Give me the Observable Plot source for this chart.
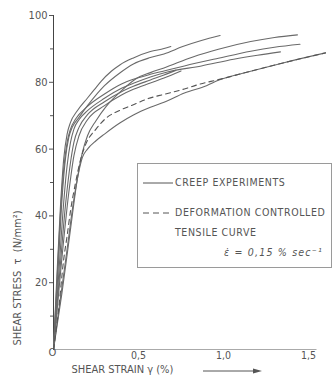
<!DOCTYPE html>
<html>
<head>
<meta charset="utf-8">
<script src="https://cdn.jsdelivr.net/npm/d3@7"></script>
<script src="https://cdn.jsdelivr.net/npm/@observablehq/plot@0.6"></script>
<style>
  html, body { margin: 0; padding: 0; background: #fff; }
  #wrap { position: relative; width: 333px; height: 378px; overflow: hidden; }
  g[aria-label="y title"] text { letter-spacing: 1.6px; }
  g[aria-label="x title"] text { letter-spacing: 1.1px; }
  #legend { position: absolute; left: 137px; top: 163px; width: 193px; height: 103px;
    border: 1px solid #9a9a9a; font-family: "DejaVu Sans Condensed", "DejaVu Sans", sans-serif;
    font-size: 10.5px; color: #555; letter-spacing: 0.6px; }
  #legend .t { position: absolute; white-space: nowrap; }
  #legend svg { position: absolute; }
  #arrow { position: absolute; left: 203px; top: 367px; }
</style>
</head>
<body>
<div id="wrap">
  <div id="chart"></div>
  <div id="legend"></div>
  <svg id="arrow" width="62" height="8"><line x1="0" y1="4" x2="52" y2="4" stroke="#555" stroke-width="1"/><polygon points="50,1.5 59,4 50,6.5" fill="#555"/></svg>
</div>
<script>
// ---- data ----
const curveA = [[0,0],[0.02,22],[0.04,42],[0.06,57],[0.08,64.5],[0.1,68],[0.14,71.5],[0.2,75.3],[0.24,77.8],[0.28,80.3],[0.34,83.3],[0.39,85.2],[0.47,87.3],[0.57,89.2],[0.65,90.1],[0.69,90.7]];
const curveB = [[0,0],[0.025,22],[0.05,45],[0.07,57],[0.09,63.5],[0.11,66.5],[0.15,69.5],[0.2,73],[0.3,79],[0.39,82.8],[0.47,85.5],[0.57,87.4],[0.65,88.5],[0.76,90.7],[0.87,92.5],[0.98,94]];
const curveC = [[0,0],[0.05,17],[0.1,36],[0.14,51],[0.17,59],[0.2,64],[0.25,68.5],[0.31,72.8],[0.4,77.5],[0.49,81.2],[0.57,82.9],[0.65,84.3],[0.82,87.6],[0.97,89.9],[1.16,92.2],[1.3,93.4],[1.435,94.2]];
const curveD = [[0,0],[0.02,20],[0.04,40],[0.06,54],[0.08,62],[0.1,66],[0.13,69],[0.2,72.8],[0.3,76.5],[0.4,79.5],[0.47,80.9],[0.57,82.4],[0.65,83.4],[0.77,84.9],[0.97,87.2],[1.16,89.3],[1.3,90.5],[1.45,91.4]];
const curveE = [[0,0],[0.03,22],[0.06,44],[0.08,55],[0.1,62],[0.12,66],[0.15,68.8],[0.2,71.5],[0.3,75.2],[0.4,78.2],[0.47,79.7],[0.57,81.6],[0.67,83.1],[0.87,84.9],[1.06,86.9],[1.2,88.1],[1.335,89.1]];
const curveF = [[0,0],[0.035,22],[0.07,43],[0.1,56],[0.12,62],[0.15,66.5],[0.2,70.3],[0.3,74.2],[0.4,77.2],[0.47,78.8],[0.57,80.7],[0.65,82.2],[0.72,83.6]];
const curveG = [[0,0],[0.045,25],[0.09,47],[0.12,58],[0.15,64],[0.2,68.8],[0.3,73],[0.4,76.2],[0.47,77.9],[0.57,79.8],[0.65,81.3],[0.75,83.4]];
const curveLow = [[0,0],[0.04,15],[0.08,30],[0.12,45],[0.15,53.5],[0.17,57.5],[0.2,60],[0.25,62.5],[0.3,64.5],[0.39,67.8],[0.47,70.2],[0.57,72.5],[0.65,74],[0.77,76.8],[0.9,79],[0.97,80.6],[1.16,83.3],[1.35,85.8],[1.6,88.8]];
const tensileCurve = [[0,0],[0.03,12],[0.06,27],[0.08,34],[0.1,41.5],[0.13,50],[0.16,57],[0.19,61.5],[0.25,66],[0.31,69.3],[0.39,71.6],[0.47,73.3],[0.55,75],[0.65,76.4],[0.77,78],[0.85,79.3],[0.97,80.8],[1.16,83.3],[1.35,85.8],[1.6,88.8]];

const xTicks = [0.5, 1.0, 1.5];
const yTicks = [20, 40, 60, 80, 100];
const yMinorTicks = [10, 30, 50, 70, 90];
const xDomain = [0, 1.6];
const yDomain = [0, 100];
const xAxisExtent = [0, 1.55];
const yTitle = "SHEAR STRESS  τ  (N/mm²)";
const xTitle = "SHEAR STRAIN γ (%)";
const originLabel = "O";
const legendItems = ["CREEP EXPERIMENTS", "DEFORMATION  CONTROLLED", "TENSILE  CURVE", "ε̇ = 0,15 % sec⁻¹"];

// ---- build tables ----
const creep = [curveA, curveB, curveC, curveD, curveE, curveF, curveG, curveLow]
  .flatMap((pts, i) => pts.map(([x, y]) => ({id: i, x, y})));
const tensile = tensileCurve.map(([x, y]) => ({x, y}));

const font = '"DejaVu Sans Condensed", "DejaVu Sans", sans-serif';
const ink = "#6a6a6a";

const chart = Plot.plot({
  width: 333, height: 378,
  marginLeft: 53, marginRight: 8, marginTop: 15, marginBottom: 29,
  x: {domain: xDomain},
  y: {domain: yDomain},
  style: {fontFamily: font, fontSize: "11px", color: "#555", background: "white"},
  marks: [
    Plot.axisY({ticks: yTicks, tickSize: 4, tickPadding: 2, label: null}),
    Plot.axisY({ticks: yMinorTicks, tickSize: 3, tickFormat: () => "", label: null}),
    Plot.axisX({ticks: xTicks, tickSize: 0, tickPadding: 2, label: null, fontSize: 10.5,
      tickFormat: d => d3.format(".1f")(d).replace(".", ",")}),
    Plot.ruleX([0], {stroke: "#444", strokeWidth: 1}),
    Plot.ruleY([0], {x1: xAxisExtent[0], x2: xAxisExtent[1], stroke: "#aaa", strokeWidth: 1}),
    Plot.line(creep, {x: "x", y: "y", z: "id", stroke: ink, strokeWidth: 1.1, curve: "monotone-x"}),
    Plot.line(tensile, {x: "x", y: "y", stroke: "#555", strokeWidth: 1.1, strokeDasharray: "5,4", curve: "monotone-x"}),
    Plot.text([originLabel], {frameAnchor: "bottom-left", dx: -5, dy: 6, fontSize: 11, fill: "#555"}),
    Plot.text([yTitle], {frameAnchor: "bottom-left", rotate: -90, textAnchor: "start", dx: -33, dy: -4,
      fontSize: 11, fill: "#555", ariaLabel: "y title"}),
    Plot.text([xTitle], {frameAnchor: "bottom-left", textAnchor: "start", dx: 18, dy: 23,
      fontSize: 11, fill: "#555", ariaLabel: "x title"})
  ]
});
document.getElementById("chart").appendChild(chart);

// ---- legend ----
const lg = document.getElementById("legend");
lg.innerHTML =
  `<svg style="left:5px;top:17px" width="32" height="4"><line x1="0" y1="2" x2="30" y2="2" stroke="#555" stroke-width="1"/></svg>` +
  `<div class="t" style="left:37px;top:12px">${legendItems[0]}</div>` +
  `<svg style="left:5px;top:47px" width="32" height="4"><line x1="0" y1="2" x2="30" y2="2" stroke="#555" stroke-width="1" stroke-dasharray="6,4"/></svg>` +
  `<div class="t" style="left:37px;top:42px">${legendItems[1]}</div>` +
  `<div class="t" style="left:37px;top:62px">${legendItems[2]}</div>` +
  `<div class="t" style="left:86px;top:82px;font-style:italic;letter-spacing:1.2px">${legendItems[3]}</div>`;
</script>
</body>
</html>
